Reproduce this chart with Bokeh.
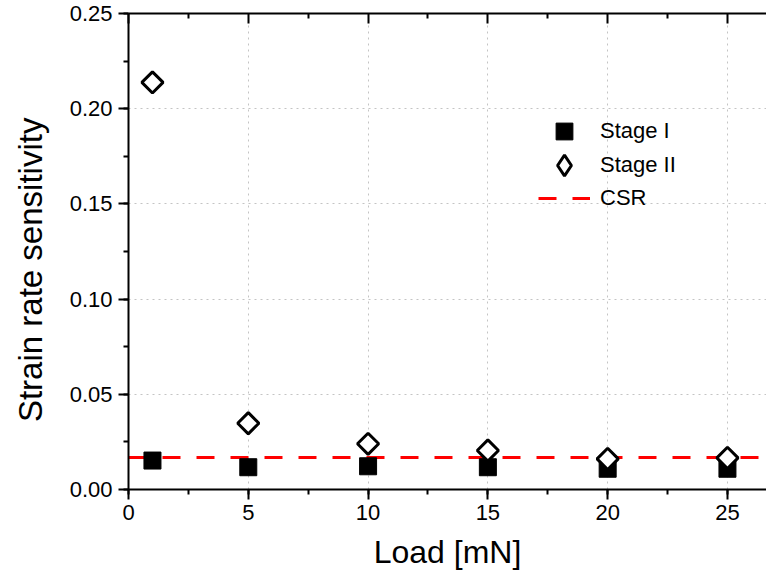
from bokeh.plotting import figure
from bokeh.models import (Range1d, SingleIntervalTicker, FixedTicker, LinearAxis,
                          Legend, LegendItem, PrintfTickFormatter)
from bokeh.embed import file_html
from bokeh.resources import INLINE
import numpy as np

# ---- data ----
load_mN = [1, 5, 10, 15, 20, 25]
stage_1 = [0.0152, 0.0117, 0.0122, 0.0117, 0.0109, 0.0109]
stage_2 = [0.2138, 0.0348, 0.0240, 0.0205, 0.0161, 0.0166]
csr_value = [0.0168]
x_label = "Load [mN]"
y_label = "Strain rate sensitivity"
series_names = ["Stage I", "Stage II", "CSR"]

FONT = "Liberation Sans"
X_END = 26.63

# trailing no-break spaces nudge the rotated label's centre downward, as in the reference
p = figure(width=766, height=584, output_backend="svg", toolbar_location=None,
           x_range=Range1d(0, X_END), y_range=Range1d(0, 0.25),
           min_border_left=128, min_border_right=0, min_border_top=13,
           min_border_bottom=95, x_axis_label=x_label,
           y_axis_label=y_label + "\u00a0" * 4)
p.outline_line_color = None
p.background_fill_color = "white"
p.border_fill_color = "white"

xt = SingleIntervalTicker(interval=5, num_minor_ticks=2)
yt = SingleIntervalTicker(interval=0.05, num_minor_ticks=2)
p.xaxis.ticker = xt
p.yaxis.ticker = yt
p.yaxis.formatter = PrintfTickFormatter(format="%.2f")

for ax in p.xaxis + p.yaxis:
    ax.axis_line_width = 2
    ax.axis_line_color = "black"
    ax.major_tick_line_width = 2
    ax.minor_tick_line_width = 2
    ax.major_tick_line_color = "black"
    ax.minor_tick_line_color = "black"
    ax.major_tick_in = 0
    ax.major_tick_out = 10
    ax.minor_tick_in = 0
    ax.minor_tick_out = 5
    ax.major_label_text_font = FONT
    ax.major_label_text_font_size = "22px"
    ax.major_label_text_color = "black"
    ax.axis_label_text_font = FONT
    ax.axis_label_text_font_style = "normal"
    ax.axis_label_text_color = "black"
p.xaxis.axis_label_text_font_size = "32px"
p.yaxis.axis_label_text_font_size = "33px"
p.yaxis.major_label_standoff = 6
p.xaxis.major_label_standoff = 5
p.yaxis.axis_label_standoff = 18
p.xaxis.axis_label_standoff = 11

# mirrored top axis: ticks only, pointing inward, no labels
top_major = FixedTicker(ticks=[], minor_ticks=[float(v) for v in np.arange(0, X_END, 5)])
top_minor = FixedTicker(ticks=[], minor_ticks=[float(v) for v in np.arange(2.5, X_END, 5)])
top1 = LinearAxis(ticker=top_major, major_label_standoff=0, major_tick_in=0,
                  major_tick_out=0, minor_tick_in=10, minor_tick_out=0,
                  axis_line_width=2, minor_tick_line_width=2)
top2 = LinearAxis(ticker=top_minor, major_label_standoff=0, major_tick_in=0,
                  major_tick_out=0, minor_tick_in=5, minor_tick_out=0,
                  axis_line_color=None, minor_tick_line_width=2)
p.add_layout(top1, "above")
p.add_layout(top2, "above")

for g in (p.xgrid[0], p.ygrid[0]):
    g.grid_line_color = "#c4c4c4"
    g.grid_line_dash = "2 4"
    g.grid_line_width = 1
p.xgrid.ticker = xt
p.ygrid.ticker = yt

# ---- glyphs ----
r_csr = p.hspan(y=csr_value, line_color="#ff0000", line_width=3, line_dash="18 16")
r1 = p.scatter(load_mN, stage_1, marker="square", size=17,
               fill_color="black", line_color="black", line_width=1)
r2 = p.scatter(load_mN, stage_2, marker="square", angle=np.pi / 4, size=15,
               fill_color="white", line_color="black", line_width=3)
r2_key = p.scatter(load_mN, stage_2, marker="diamond", size=15,
                   fill_color="white", line_color="black", line_width=3,
                   visible=False)

def make_legend(label, rend, loc, gh):
    lg = Legend(items=[LegendItem(label=label, renderers=[rend])],
                location=loc, glyph_width=52, glyph_height=gh,
                label_standoff=10, padding=0, margin=0, spacing=0,
                label_text_font=FONT, label_text_font_size="22px",
                label_text_color="black", border_line_color=None,
                background_fill_alpha=0)
    p.add_layout(lg, "center")

make_legend(series_names[0], r1, (410, 337), 42)
make_legend(series_names[1], r2_key, (410, 293), 62)
make_legend(series_names[2], r_csr, (410, 270), 42)

open("out.html", "w").write(file_html(p, INLINE))
